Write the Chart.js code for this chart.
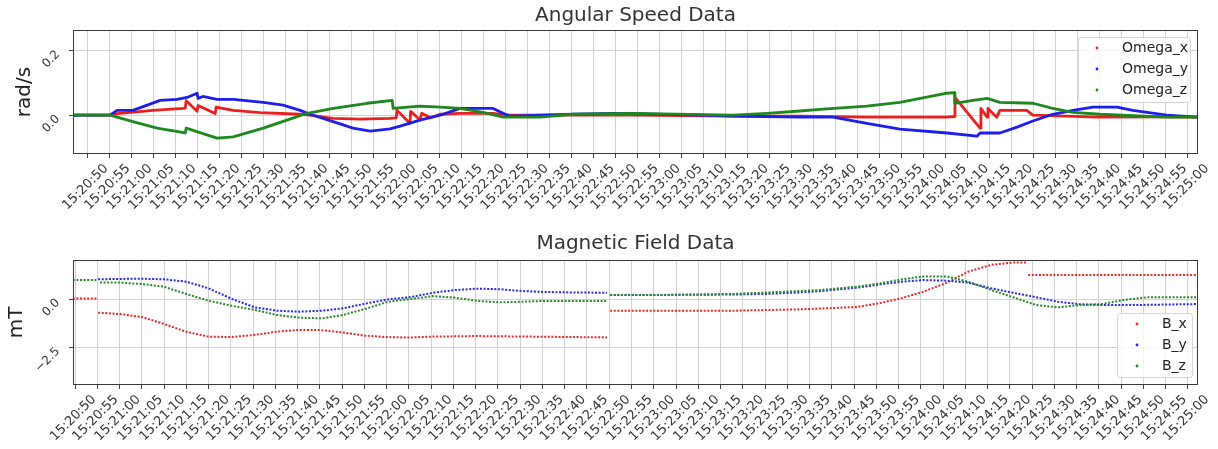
<!DOCTYPE html>
<html lang="en">
<head>
<meta charset="UTF-8">
<title>Angular Speed and Magnetic Field</title>
<script src="https://cdn.jsdelivr.net/npm/chart.js"></script>
<style>
    body { margin: 0; background: #fff; }
    canvas { display: block; }
</style>
</head>
<body>

<canvas id="omegaChart" width="1218" height="222"></canvas>
<canvas id="fieldChart" width="1218" height="227"></canvas>

<script>
// Clock time of the first tick; sample times below are seconds after it
const START = '15:20:50';

// Angular speed samples, [seconds, rad/s]
const omegaX = [[-3.2, 0], [5.2, 0], [6.8, 0.005], [15.0, 0.015], [21.8, 0.021], [22.3, 0.022],
    [22.5, 0.045], [25.0, 0.012], [25.2, 0.030], [29.1, 0.005], [29.3, 0.025], [33.2, 0.015],
    [39.3, 0.008], [48.4, 0.003], [50.6, 0], [55.9, -0.010], [62.0, -0.012], [68.8, -0.010],
    [70.2, -0.008], [70.4, 0.015], [73.3, -0.025], [73.5, 0.012], [75.6, -0.015], [76.0, 0.006],
    [78.0, -0.008], [80.2, 0.003], [84.7, 0.006], [92.2, 0.006], [96.0, 0], [124.0, 0],
    [146.7, -0.003], [161.9, -0.003], [177.1, -0.006], [195.3, -0.006], [197.0, -0.004],
    [197.1, 0.055], [202.8, -0.040], [203.0, 0.021], [204.4, -0.006], [204.6, 0.021],
    [206.6, -0.006], [207.3, 0.015], [213.4, 0.015], [214.8, 0], [222.5, -0.003],
    [229.3, -0.006], [245.0, -0.005], [252.3, -0.006]];
const omegaY = [[-3.2, 0], [5.2, 0], [6.8, 0.015], [10.4, 0.015], [16.6, 0.046], [20.4, 0.049],
    [22.7, 0.055], [25.0, 0.068], [25.2, 0.052], [26.3, 0.058], [29.5, 0.049], [33.2, 0.049],
    [40.0, 0.040], [44.5, 0.031], [48.4, 0.015], [50.6, 0.003], [55.9, -0.020], [60.4, -0.040],
    [64.3, -0.049], [68.8, -0.042], [71.1, -0.034], [75.6, -0.015], [80.2, 0], [84.7, 0.021],
    [92.2, 0.021], [94.5, 0.006], [96.0, -0.003], [110.4, 0.003], [120.3, 0.006], [139.2, 0],
    [146.7, -0.003], [161.9, -0.006], [169.4, -0.006], [177.1, -0.025], [184.6, -0.043],
    [195.3, -0.055], [202.1, -0.065], [202.8, -0.055], [207.3, -0.055], [211.2, -0.037],
    [214.8, -0.018], [219.3, 0.003], [223.9, 0.015], [228.4, 0.025], [233.9, 0.025],
    [237.5, 0.015], [245.2, 0], [252.3, -0.006]];
const omegaZ = [[-3.2, 0], [5.2, 0], [10.4, -0.020], [15.9, -0.040], [22.3, -0.055], [22.5, -0.040],
    [29.5, -0.071], [33.2, -0.067], [40.0, -0.040], [45.4, -0.015], [50.0, 0.006], [55.9, 0.021],
    [63.6, 0.037], [69.3, 0.046], [69.5, 0.021], [75.6, 0.028], [80.2, 0.025], [84.7, 0.021],
    [89.9, 0.009], [94.5, -0.006], [102.9, -0.006], [110.4, 0.003], [124.0, 0.006], [146.7, 0],
    [154.4, 0.006], [161.9, 0.013], [166.4, 0.018], [177.1, 0.028], [184.6, 0.040],
    [195.3, 0.068], [197.0, 0.070], [197.1, 0.037], [201.2, 0.046], [204.4, 0.052],
    [207.3, 0.040], [214.8, 0.037], [219.3, 0.021], [223.9, 0.009], [230.0, 0.003],
    [245.2, -0.006], [252.3, -0.006]];

// Magnetic field samples, [seconds, mT]; null marks a break in the trace
const fieldX = [[-0.5, 0.02], [4.9, 0.02], [5.0, null], [5.2, -0.70], [10, -0.77], [15, -0.92],
    [20, -1.28], [25, -1.68], [30, -1.93], [35, -1.95], [40, -1.85], [45, -1.68], [50, -1.59],
    [55, -1.59], [60, -1.71], [65, -1.88], [70, -1.95], [75, -1.98], [80, -1.93], [90, -1.90],
    [103, -1.93], [119.5, -1.97], [119.8, null], [120.2, -0.60], [133, -0.60], [148, -0.60],
    [163, -0.53], [175.6, -0.41], [180.8, -0.21], [185.8, 0.05], [190.5, 0.37], [195.9, 0.84],
    [200.6, 1.40], [205.8, 1.75], [210.7, 1.87], [213.8, 1.87], [214.0, null], [214.1, 1.23],
    [252, 1.23]];
const fieldY = [[5.2, 1.01], [10, 1.03], [15, 1.04], [20, 1.01], [25, 0.89], [30, 0.55],
    [35.5, -0.02], [40.4, -0.43], [45.4, -0.60], [50.5, -0.65], [55.5, -0.60], [60.2, -0.48],
    [65.6, -0.22], [70.3, -0.02], [75.5, 0.10], [80.4, 0.32], [85.4, 0.46], [90.5, 0.53],
    [95.5, 0.50], [100.4, 0.41], [105.3, 0.36], [110.5, 0.34], [119.5, 0.32], [119.8, null],
    [120.2, 0.21], [133, 0.21], [148, 0.23], [155.4, 0.26], [162.8, 0.34], [167.3, 0.40],
    [175.6, 0.58], [180.8, 0.75], [185.8, 0.89], [190.5, 0.97], [195.9, 0.94], [200.6, 0.84],
    [205.8, 0.55], [210.7, 0.32], [215.9, 0.09], [220.8, -0.14], [225.7, -0.27], [230.7, -0.31],
    [237.6, -0.31], [252, -0.26]];
const fieldZ = [[-0.5, 0.97], [4.9, 0.97], [5.0, null], [5.6, 0.84], [10, 0.84], [15, 0.77],
    [20, 0.63], [25, 0.26], [30, -0.09], [35.5, -0.36], [40.4, -0.56], [45.4, -0.82],
    [50.5, -0.96], [55.5, -0.99], [60.2, -0.82], [65.6, -0.48], [70.3, -0.14], [75.5, 0],
    [80.4, 0.15], [85.4, 0.07], [90.5, -0.10], [95.5, -0.17], [100.4, -0.14], [105.3, -0.10],
    [119.5, -0.10], [119.8, null], [120.2, 0.21], [133, 0.21], [148, 0.26], [162.8, 0.41],
    [167.3, 0.46], [175.6, 0.63], [180.8, 0.80], [185.8, 1.01], [190.5, 1.15], [195.9, 1.15],
    [200.6, 0.89], [205.8, 0.46], [210.7, 0.09], [215.9, -0.31], [220.8, -0.43], [225.7, -0.31],
    [230.7, -0.26], [235.6, -0.05], [240.8, 0.09], [252, 0.09]];

// Tick positions
const timeTicks = Array.from({ length: 51 }, (_, i) => i * 5);   // every 5 s, 15:20:50 .. 15:25:00
const omegaTicks = [0, 0.2];
const fieldTicks = [-2.5, 0];

Chart.defaults.font.family = '"DejaVu Sans", sans-serif';

const startSec = START.split(':').reduce((acc, p) => acc * 60 + Number(p), 0);

function clock(sec) {
    const t = Math.round(startSec + sec);
    const h = Math.floor(t / 3600), m = Math.floor((t % 3600) / 60), s = t % 60;
    return [h, m, s].map(n => String(n).padStart(2, '0')).join(':');
}

function num(v) {
    return v.toFixed(1).replace('-', '\u2212');
}

const toXY = pairs => pairs.map(([x, y]) => ({ x, y }));

// Dark frame round the plot area, drawn over the traces
const axesFrame = {
    id: 'axesFrame',
    afterDatasetsDraw(chart) {
        const { ctx, chartArea: a } = chart;
        ctx.save();
        ctx.strokeStyle = '#3a3a3a';
        ctx.lineWidth = 1;
        ctx.strokeRect(Math.round(a.left) + 0.5, Math.round(a.top) + 0.5,
            Math.round(a.right - a.left) - 1, Math.round(a.bottom - a.top) - 1);
        ctx.restore();
    }
};

// Legend box sitting inside the plot area
const insetLegend = {
    id: 'insetLegend',
    afterDraw(chart, args, o) {
        const { ctx, chartArea: a } = chart;
        const x = a.right - o.right - o.width;
        const y = o.corner === 'top' ? a.top + o.offset : a.bottom - o.offset - o.height;
        ctx.save();
        ctx.beginPath();
        if (ctx.roundRect) ctx.roundRect(x + 0.5, y + 0.5, o.width, o.height, 3);
        else ctx.rect(x + 0.5, y + 0.5, o.width, o.height);
        ctx.fillStyle = 'rgba(255,255,255,0.8)';
        ctx.fill();
        ctx.strokeStyle = '#d6d6d6';
        ctx.lineWidth = 1;
        ctx.stroke();
        ctx.font = '14px "DejaVu Sans"';
        ctx.textBaseline = 'middle';
        chart.data.datasets.forEach((ds, i) => {
            const cy = y + o.firstRow + i * o.rowGap;
            ctx.fillStyle = ds.borderColor;
            ctx.beginPath();
            ctx.arc(x + o.markerX, cy, 1.4, 0, Math.PI * 2);
            ctx.fill();
            ctx.fillStyle = '#222';
            ctx.fillText(ds.label, x + o.textX, cy);
        });
        ctx.restore();
    }
};

function axes(xRange, yRange, yTicks, yTitle, yTitlePad, xHeight) {
    const grid = { color: '#d2d2d2', lineWidth: 1, tickColor: '#444', tickLength: 4 };
    return {
        x: {
            type: 'linear',
            min: xRange[0],
            max: xRange[1],
            afterBuildTicks: s => { s.ticks = timeTicks.map(v => ({ value: v })); },
            afterFit: s => { s.height = xHeight; },
            grid,
            border: { display: false },
            ticks: {
                autoSkip: false, minRotation: 45, maxRotation: 45,
                padding: 3, labelOffset: 19,
                color: '#333', font: { size: 13 },
                callback: v => clock(v)
            }
        },
        y: {
            min: yRange[0],
            max: yRange[1],
            afterBuildTicks: s => { s.ticks = yTicks.map(v => ({ value: v })); },
            afterFit: s => { s.width = 73; },
            grid,
            border: { display: false },
            ticks: {
                minRotation: 45, maxRotation: 45,
                padding: 11, labelOffset: 2,
                color: '#333', font: { size: 12 },
                callback: v => num(v)
            },
            title: {
                display: true, text: yTitle, color: '#222',
                font: { size: 20 }, padding: { top: yTitlePad, bottom: 0 }
            }
        }
    };
}

const solid = (label, data, color, order) => ({
    label, data: toXY(data), borderColor: color, backgroundColor: color,
    borderWidth: 2.8, pointRadius: 0, tension: 0, order,
    borderCapStyle: 'round', borderJoinStyle: 'round'
});

const dotted = (label, data, color, order) => ({
    label, data: toXY(data), borderColor: color, backgroundColor: color,
    borderWidth: 2, borderDash: [2, 1.6], pointRadius: 0, tension: 0, order, spanGaps: false
});

new Chart(document.getElementById('omegaChart'), {
    type: 'line',
    data: {
        datasets: [
            solid('Omega_x', omegaX, 'rgb(232,32,32)', 3),
            solid('Omega_y', omegaY, 'rgb(30,30,235)', 2),
            solid('Omega_z', omegaZ, 'rgb(30,135,30)', 1)
        ]
    },
    options: {
        responsive: false,
        animation: false,
        layout: { padding: { left: 0, right: 20, top: 0, bottom: 0 } },
        scales: axes([-3.2, 252.3], [-0.12, 0.2637], omegaTicks, 'rad/s', 13, 68),
        plugins: {
            legend: { display: false },
            tooltip: { enabled: false },
            title: {
                display: true, text: 'Angular Speed Data', fullSize: false,
                color: '#333', font: { size: 20, weight: 'normal' },
                padding: { top: 4, bottom: 2 }
            },
            insetLegend: { corner: 'top', right: 8, offset: 7, width: 112, height: 65,
                firstRow: 11, rowGap: 21, markerX: 19, textX: 44 }
        }
    },
    plugins: [axesFrame, insetLegend]
});

new Chart(document.getElementById('fieldChart'), {
    type: 'line',
    data: {
        datasets: [
            dotted('B_x', fieldX, 'rgb(232,40,40)', 3),
            dotted('B_y', fieldY, 'rgb(40,40,230)', 2),
            dotted('B_z', fieldZ, 'rgb(40,135,40)', 1)
        ]
    },
    options: {
        responsive: false,
        animation: false,
        layout: { padding: { left: 0, right: 20, top: 0, bottom: 0 } },
        scales: axes([-0.45, 252.25], [-4.41, 2.0], fieldTicks, 'mT', 5, 64),
        plugins: {
            legend: { display: false },
            tooltip: { enabled: false },
            title: {
                display: true, text: 'Magnetic Field Data', fullSize: false,
                color: '#333', font: { size: 20, weight: 'normal' },
                padding: { top: 10, bottom: 4 }
            },
            insetLegend: { corner: 'bottom', right: 6, offset: 8, width: 75, height: 64,
                firstRow: 11, rowGap: 21, markerX: 20, textX: 45 }
        }
    },
    plugins: [axesFrame, insetLegend]
});
</script>

</body>
</html>
